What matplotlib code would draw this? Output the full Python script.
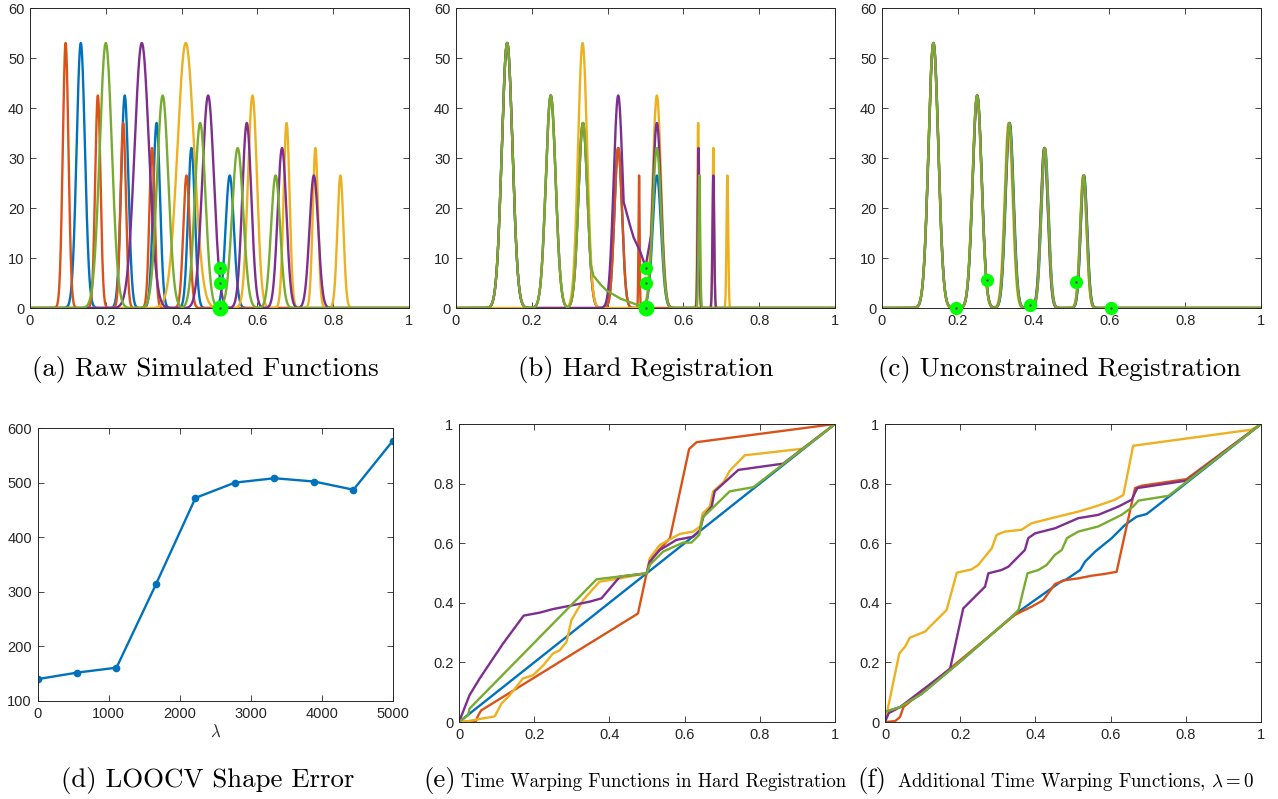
import numpy as np
import matplotlib.pyplot as plt

plt.rcParams['font.family'] = ['Liberation Sans', 'DejaVu Sans']
plt.rcParams['mathtext.fontset'] = 'cm'

# MATLAB default line colours: blue, orange, yellow, purple, green
series_colors = ['#0072BD', '#D95319', '#EDB120', '#7E2F8E', '#77AC30']
mark_color = '#00FF00'

# peak heights shared by every simulated function
peak_heights = [53, 42.5, 37, 32, 26.5]

# (a) raw simulated functions: peak locations / widths per series
raw_centers = [
    [0.134, 0.250, 0.334, 0.426, 0.527],
    [0.094, 0.179, 0.246, 0.322, 0.413],
    [0.411, 0.587, 0.677, 0.753, 0.819],
    [0.295, 0.470, 0.572, 0.665, 0.749],
    [0.200, 0.350, 0.449, 0.548, 0.648],
]
raw_widths = [
    [0.011, 0.0095, 0.009, 0.009, 0.011],
    [0.0075, 0.007, 0.007, 0.007, 0.0085],
    [0.022, 0.012, 0.008, 0.007, 0.008],
    [0.019, 0.0155, 0.012, 0.0115, 0.0115],
    [0.016, 0.015, 0.014, 0.0145, 0.012],
]

# (b) hard registration
hard_centers = [
    [0.135, 0.250, 0.335, 0.428, 0.530],
    [0.135, 0.250, 0.335, 0.428, 0.483],
    [0.334, 0.530, 0.639, 0.679, 0.716],
    [0.135, 0.428, 0.530, 0.640, 0.679],
    [0.135, 0.250, 0.335, 0.530, 0.642],
]
hard_widths = [
    [0.014, 0.013, 0.012, 0.010, 0.011],
    [0.014, 0.013, 0.012, 0.010, 0.0015],
    [0.012, 0.011, 0.0022, 0.0022, 0.0022],
    [0.014, 0.012, 0.011, 0.0022, 0.0022],
    [0.014, 0.013, 0.012, 0.011, 0.0022],
]
# slow decays left behind by the landmark constraint
purple_tail_x = [0.436, 0.441, 0.455, 0.468, 0.485, 0.496, 0.500, 0.515]
purple_tail_y = [26.0, 21.6, 17.6, 14.2, 11.5, 9.2, 8.2, 14.5]
green_tail_x = [0.352, 0.362, 0.380, 0.397, 0.433, 0.468, 0.494, 0.500]
green_tail_y = [10.0, 6.5, 4.8, 3.5, 1.9, 0.9, 0.3, 0.0]

# (c) unconstrained registration
reg_centers = [
    [0.1360, 0.2515, 0.3370, 0.4300, 0.5330],
    [0.1355, 0.2510, 0.3355, 0.4290, 0.5315],
    [0.1355, 0.2505, 0.3340, 0.4285, 0.5310],
    [0.1357, 0.2512, 0.3362, 0.4280, 0.5325],
    [0.1356, 0.2510, 0.3360, 0.4290, 0.5320],
]
reg_widths = [0.013, 0.012, 0.0105, 0.0095, 0.0085]

landmark_x = [0.5, 0.5, 0.5]
landmark_y = [0, 5, 8]
reg_mark_x = [0.194, 0.278, 0.390, 0.512, 0.604]
reg_mark_y = [0, 5.7, 0.6, 5.2, 0]

# (d) LOOCV shape error
lam = [0, 556, 1111, 1667, 2222, 2778, 3333, 3889, 4444, 5000]
loocv_err = [140, 152, 161, 314, 472, 500, 508, 502, 487, 577]

# (e) warping functions, hard registration
hard_warp = [
    ([0, 1], [0, 1]),
    ([0, 0.045, 0.051, 0.059, 0.476, 0.499, 0.516, 0.561, 0.612, 0.632, 1],
     [0, 0.003, 0.022, 0.039, 0.364, 0.499, 0.555, 0.617, 0.916, 0.939, 1]),
    ([0, 0.02, 0.095, 0.113, 0.135, 0.17, 0.197, 0.224, 0.25, 0.268, 0.286, 0.299,
      0.33, 0.374, 0.428, 0.499, 0.507, 0.534, 0.587, 0.623, 0.641, 0.648, 0.667,
      0.676, 0.703, 0.72, 0.76, 0.914, 1],
     [0, 0.002, 0.019, 0.062, 0.09, 0.146, 0.157, 0.19, 0.23, 0.241, 0.269, 0.342,
      0.409, 0.471, 0.482, 0.499, 0.549, 0.594, 0.631, 0.639, 0.656, 0.7, 0.723,
      0.774, 0.804, 0.843, 0.895, 0.917, 1]),
    ([0, 0.028, 0.055, 0.117, 0.172, 0.215, 0.25, 0.303, 0.348, 0.379, 0.428, 0.499,
      0.507, 0.534, 0.578, 0.623, 0.641, 0.65, 0.672, 0.68, 0.743, 0.862, 1],
     [0, 0.09, 0.146, 0.263, 0.357, 0.367, 0.379, 0.392, 0.404, 0.415, 0.488, 0.499,
      0.538, 0.577, 0.611, 0.622, 0.645, 0.689, 0.723, 0.774, 0.846, 0.867, 1]),
    ([0, 0.024, 0.028, 0.366, 0.499, 0.507, 0.543, 0.596, 0.618, 0.639, 0.648, 0.72,
      0.783, 1],
     [0, 0.022, 0.045, 0.479, 0.499, 0.527, 0.572, 0.602, 0.602, 0.628, 0.686, 0.774,
      0.788, 1]),
]

# (f) additional warping functions, lambda = 0
free_warp = [
    ([0, 0.04, 0.098, 0.204, 0.337, 0.355, 0.47, 0.483, 0.519, 0.532, 0.559, 0.603,
      0.638, 0.669, 0.696, 0.758, 1],
     [0.034, 0.05, 0.095, 0.207, 0.353, 0.37, 0.473, 0.479, 0.51, 0.538, 0.572, 0.617,
      0.661, 0.689, 0.698, 0.759, 1]),
    ([0, 0.027, 0.04, 0.049, 0.346, 0.39, 0.421, 0.452, 0.479, 0.514, 0.55, 0.585,
      0.616, 0.665, 0.683, 0.802, 1],
     [0, 0.003, 0.017, 0.05, 0.36, 0.387, 0.409, 0.463, 0.476, 0.482, 0.491, 0.497,
      0.504, 0.785, 0.793, 0.815, 1]),
    ([0, 0.038, 0.053, 0.066, 0.106, 0.164, 0.191, 0.23, 0.248, 0.284, 0.297, 0.319,
      0.363, 0.39, 0.443, 0.514, 0.559, 0.612, 0.634, 0.66, 0.975, 1],
     [0, 0.23, 0.252, 0.283, 0.303, 0.376, 0.501, 0.512, 0.527, 0.583, 0.628, 0.639,
      0.645, 0.667, 0.684, 0.706, 0.723, 0.746, 0.762, 0.927, 0.981, 1]),
    ([0, 0.01, 0.04, 0.173, 0.208, 0.266, 0.275, 0.31, 0.328, 0.346, 0.372, 0.381,
      0.399, 0.452, 0.514, 0.567, 0.621, 0.656, 0.671, 0.802, 1],
     [0, 0.03, 0.05, 0.178, 0.381, 0.454, 0.499, 0.51, 0.521, 0.544, 0.577, 0.617,
      0.633, 0.65, 0.684, 0.695, 0.723, 0.746, 0.785, 0.81, 1]),
    ([0, 0.04, 0.098, 0.204, 0.337, 0.355, 0.379, 0.408, 0.43, 0.452, 0.47, 0.484,
      0.514, 0.567, 0.629, 0.66, 0.674, 0.754, 1],
     [0.034, 0.05, 0.095, 0.207, 0.353, 0.376, 0.499, 0.51, 0.527, 0.561, 0.577, 0.617,
      0.639, 0.656, 0.695, 0.723, 0.743, 0.759, 1]),
]

W, H = 1278, 799
fig = plt.figure(figsize=(W / 100, H / 100), dpi=100)
t = np.linspace(0, 1, 3001)
unit_ticks = [0, 0.2, 0.4, 0.6, 0.8, 1]
unit_labels = ['0', '0.2', '0.4', '0.6', '0.8', '1']
LW = 1.7


def add_ax(left, top, right, bottom):
    ax = fig.add_axes([left / W, 1 - bottom / H, (right - left) / W, (bottom - top) / H])
    ax.tick_params(direction='in', length=4, width=0.6, top=True, right=True,
                   labelsize=10.5, colors='0.15', pad=4)
    for sp in ax.spines.values():
        sp.set_color('0.15')
        sp.set_linewidth(0.7)
    return ax


def peaks(centers, widths):
    y = np.zeros_like(t)
    for c, s, h in zip(centers, widths, peak_heights):
        y = np.maximum(y, h * np.exp(-0.5 * ((t - c) / s) ** 2))
    return y


def func_axes(ax):
    ax.set_xlim(0, 1)
    ax.set_ylim(0, 60)
    ax.set_xticks(unit_ticks, unit_labels)
    ax.set_yticks(range(0, 61, 10))


def landmarks(ax, xs, ys, big_first=True):
    for i, (x, y) in enumerate(zip(xs, ys)):
        ms = 10.5 if (big_first and i == 0) else 8.5
        ax.plot(x, y, 'o', ms=ms, color=mark_color, mec=mark_color, zorder=5, clip_on=False)
        ax.plot(x, y, '.', ms=1.5, color='#7E2F8E', zorder=6, clip_on=False)


# (a)
ax = add_ax(30, 8, 409, 308)
for col, cs, ws in zip(series_colors, raw_centers, raw_widths):
    ax.plot(t, peaks(cs, ws), color=col, lw=LW)
func_axes(ax)
landmarks(ax, landmark_x, landmark_y)

# (b)
ax = add_ax(456, 8, 835, 308)
for i, (col, cs, ws) in enumerate(zip(series_colors, hard_centers, hard_widths)):
    y = peaks(cs, ws)
    if i == 3:
        y = np.maximum(y, np.interp(t, purple_tail_x, purple_tail_y, left=0, right=0))
    if i == 4:
        y = np.maximum(y, np.interp(t, green_tail_x, green_tail_y, left=0, right=0))
    ax.plot(t, y, color=col, lw=LW)
func_axes(ax)
landmarks(ax, landmark_x, landmark_y)

# (c)
ax = add_ax(882, 8, 1261, 308)
for col, cs in zip(series_colors, reg_centers):
    ax.plot(t, peaks(cs, reg_widths), color=col, lw=LW)
func_axes(ax)
for x, y in zip(reg_mark_x, reg_mark_y):
    ax.plot(x, y, 'o', ms=8.5, color=mark_color, zorder=5, clip_on=False)
    ax.plot(x, y, '.', ms=1.5, color='#7E2F8E', zorder=6, clip_on=False)

# (d)
ax = add_ax(37.5, 428, 393, 701)
ax.plot(lam, loocv_err, '-o', color=series_colors[0], lw=LW, ms=4.5)
ax.set_xlim(0, 5000)
ax.set_ylim(100, 600)
ax.set_xticks(range(0, 5001, 1000))
ax.set_yticks(range(100, 601, 100))
ax.set_xlabel(r'$\lambda$', fontsize=12, labelpad=2, color='0.15')

# (e)
ax = add_ax(459, 424, 835, 722)
for col, (xs, ys) in zip(series_colors, hard_warp):
    ax.plot(xs, ys, color=col, lw=LW)
ax.set_xlim(0, 1)
ax.set_ylim(0, 1)
ax.set_xticks(unit_ticks, unit_labels)
ax.set_yticks(unit_ticks, unit_labels)

# (f)
ax = add_ax(885, 424, 1261, 722)
for col, (xs, ys) in zip(series_colors, free_warp):
    ax.plot(xs, ys, color=col, lw=LW)
ax.set_xlim(0, 1)
ax.set_ylim(0, 1)
ax.set_xticks(unit_ticks, unit_labels)
ax.set_yticks(unit_ticks, unit_labels)

# captions
cap = dict(family='cmr10', fontsize=19.3, va='baseline', color='black')
small = dict(family='cmr10', fontsize=13.6, va='baseline', color='black')
fig.text(205 / W, 1 - 376 / H, '(a) Raw Simulated Functions', ha='center', **cap)
fig.text(646 / W, 1 - 376 / H, '(b) Hard Registration', ha='center', **cap)
fig.text(1060 / W, 1 - 376 / H, '(c) Unconstrained Registration', ha='center', **cap)
fig.text(208 / W, 1 - 787 / H, '(d) LOOCV Shape Error', ha='center', **cap)
fig.text(423 / W, 1 - 787 / H, '(e)', ha='left', **cap)
fig.text(461 / W, 1 - 787 / H, 'Time Warping Functions in Hard Registration', ha='left', **small)
fig.text(857 / W, 1 - 787 / H, '(f)', ha='left', **cap)
fig.text(897 / W, 1 - 787 / H, r'Additional Time Warping Functions, $\lambda = 0$', ha='left', **small)

fig.savefig('out.png', dpi=100)
